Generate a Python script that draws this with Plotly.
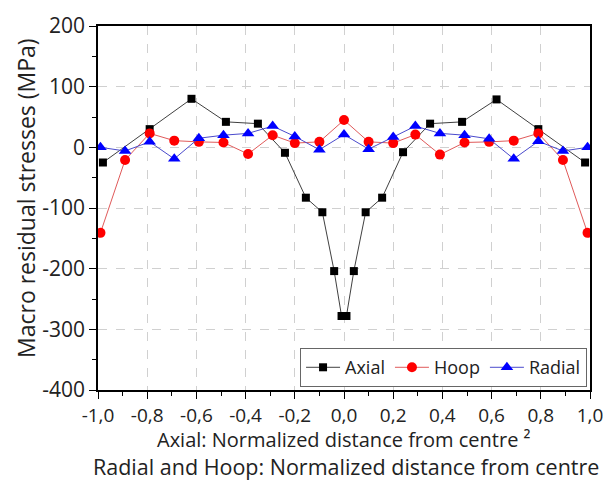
import plotly.graph_objects as go

# Axial: x is normalized distance squared (signed)
axial_x = [-0.98, -0.79, -0.62, -0.48, -0.35, -0.24, -0.155, -0.088, -0.04, -0.01,
           0.01, 0.04, 0.088, 0.155, 0.24, 0.35, 0.48, 0.62, 0.79, 0.98]
axial_y = [-25, 30, 80, 42, 39, -9, -83, -107, -204, -278,
           -278, -204, -107, -83, -8, 39, 42, 79, 30, -25]

rh_x = [-0.99, -0.89, -0.79, -0.69, -0.59, -0.49, -0.39, -0.29, -0.20, -0.10, 0.0,
        0.10, 0.20, 0.29, 0.39, 0.49, 0.59, 0.69, 0.79, 0.89, 0.99]
hoop_y = [-141, -21, 23, 11, 9, 8, -11, 20, 7, 9, 45,
          9, 7, 21, -12, 8, 9, 11, 23, -21, -141]
radial_y = [0, -6, 9, -19, 15, 20, 23, 35, 18, -4, 21,
            -3, 17, 35, 23, 20, 14, -19, 10, -6, 0]

x_ticks = [-1.0, -0.8, -0.6, -0.4, -0.2, 0.0, 0.2, 0.4, 0.6, 0.8, 1.0]
x_ticktext = ["-1,0", "-0,8", "-0,6", "-0,4", "-0,2", "0,0", "0,2", "0,4", "0,6", "0,8", "1,0"]
y_ticks = [200, 100, 0, -100, -200, -300, -400]
y_ticktext = ["200", "100", "0", "-100", "-200", "-300", "-400"]

FONT = "Open Sans"

fig = go.Figure()
fig.add_trace(go.Scatter(x=axial_x, y=axial_y, name="Axial", mode="lines+markers",
                         line=dict(color="#404040", width=1),
                         marker=dict(symbol="square", size=8, color="black")))
fig.add_trace(go.Scatter(x=rh_x, y=hoop_y, name="Hoop", mode="lines+markers",
                         line=dict(color="#e05a5a", width=1),
                         marker=dict(symbol="circle", size=10, color="red")))
fig.add_trace(go.Scatter(x=rh_x, y=radial_y, name="Radial", mode="lines+markers",
                         line=dict(color="#4a4acc", width=1),
                         marker=dict(symbol="triangle-up", size=11, color="blue")))

fig.update_xaxes(range=[-1.0, 1.0], tickvals=x_ticks, ticktext=x_ticktext, automargin=False,
                 showline=True, linecolor="black", linewidth=1.5, mirror=True,
                 ticks="outside", ticklen=7, tickwidth=1.2, tickcolor="black",
                 minor=dict(dtick=0.1, ticks="outside", ticklen=4, tickcolor="black", showgrid=False),
                 showgrid=True, gridcolor="#d0d0d0", griddash="dash", gridwidth=1,
                 zeroline=False, tickfont=dict(family=FONT, size=19, color="#222"))
fig.update_yaxes(range=[-400, 200], tickvals=y_ticks, ticktext=y_ticktext, automargin=False,
                 showline=True, linecolor="black", linewidth=1.5, mirror=True,
                 ticks="outside", ticklen=7, tickwidth=1.2, tickcolor="black",
                 minor=dict(dtick=50, ticks="outside", ticklen=4, tickcolor="black", showgrid=False),
                 showgrid=True, gridcolor="#d0d0d0", griddash="dash", gridwidth=1,
                 zeroline=False, tickfont=dict(family=FONT, size=21, color="#222"))

fig.add_annotation(text="Axial: Normalized distance from centre ²", xref="paper", yref="paper",
                   x=0.5, y=-0.137, showarrow=False, yanchor="middle",
                   font=dict(family=FONT, size=20, color="#222"))
fig.add_annotation(text="Radial and Hoop: Normalized distance from centre", xref="paper", yref="paper",
                   x=0.505, y=-0.209, showarrow=False, yanchor="middle",
                   font=dict(family=FONT, size=21.5, color="#222"))
fig.add_annotation(text="Macro residual stresses (MPa)", xref="paper", yref="paper",
                   x=-0.146, y=0.528, showarrow=False, textangle=-90,
                   xanchor="center", yanchor="middle",
                   font=dict(family=FONT, size=23, color="#222"))

# page body has an 8px margin, so the figure is sized and offset to compensate
fig.update_layout(width=603, height=479, margin=dict(l=90, r=21, t=18, b=97),
                  plot_bgcolor="white", paper_bgcolor="white", showlegend=True,
                  legend=dict(orientation="h", x=0.994, y=0.008, xanchor="right", yanchor="bottom",
                              bordercolor="#666", borderwidth=1, bgcolor="white",
                              font=dict(family=FONT, size=18, color="#222"),
                              itemwidth=34, tracegroupgap=0))

fig.write_html("out.html")
